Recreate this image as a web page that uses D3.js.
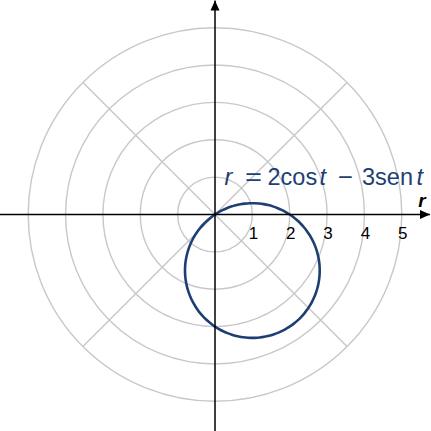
<!DOCTYPE html>
<html><head><meta charset="utf-8">
<script src="https://cdn.jsdelivr.net/npm/d3@7"></script>
<style>html,body{margin:0;padding:0;background:#fff;}svg{display:block;}</style>
</head><body>
<script>
const gridRadii = [1, 2, 3, 4, 5];
const spokeAngles = [45, 135];
const tickLabels = ["1", "2", "3", "4", "5"];
const coefA = 2, coefB = -3; // r = 2cos t − 3sen t
const curveSteps = d3.range(0, 181, 2);
const equationParts = ["r", "=", "2cos", "t", "−", "3sen", "t"];

const W = 431, H = 431, cx = 215, cy = 214.5;
const r = d3.scaleLinear().domain([0, 5]).range([0, 186.8]);
const svg = d3.select("body").append("svg").attr("width", W).attr("height", H);
const defs = svg.append("defs");
defs.append("marker").attr("id", "arr").attr("viewBox", "0 0 10 10").attr("refX", 10).attr("refY", 5)
  .attr("markerWidth", 10).attr("markerHeight", 10).attr("markerUnits", "userSpaceOnUse").attr("orient", "auto")
  .append("path").attr("d", "M0,0.5 L10,5 L0,9.5 Z").attr("fill", "#000");
const g = svg.append("g").attr("transform", `translate(${cx},${cy})`);
const grid = "#c8c8c8";
g.selectAll("circle.grid").data(gridRadii).join("circle").attr("class", "grid")
  .attr("r", d => r(d)).attr("fill", "none").attr("stroke", grid).attr("stroke-width", 1.4);
g.selectAll("line.spoke").data(spokeAngles).join("line").attr("class", "spoke")
  .attr("x1", d => r(5) * Math.cos(d * Math.PI / 180)).attr("y1", d => -r(5) * Math.sin(d * Math.PI / 180))
  .attr("x2", d => -r(5) * Math.cos(d * Math.PI / 180)).attr("y2", d => r(5) * Math.sin(d * Math.PI / 180))
  .attr("stroke", grid).attr("stroke-width", 1.4);
// axes
svg.append("line").attr("x1", 0).attr("y1", cy).attr("x2", 430).attr("y2", cy)
  .attr("stroke", "#000").attr("stroke-width", 1.5).attr("marker-end", "url(#arr)");
svg.append("line").attr("x1", cx).attr("y1", H).attr("x2", cx).attr("y2", 0.5)
  .attr("stroke", "#000").attr("stroke-width", 1.5).attr("marker-end", "url(#arr)");
// tick labels
g.selectAll("text.tick").data(gridRadii).join("text").attr("class", "tick")
  .attr("x", d => r(d) + 1).attr("y", 24).attr("text-anchor", "middle")
  .attr("font-family", "Liberation Sans, Arial, sans-serif").attr("font-size", 17).attr("fill", "#000")
  .text((d, i) => tickLabels[i]);
// r label
svg.append("text").attr("x", 422).attr("y", 207).attr("text-anchor", "middle")
  .attr("font-family", "Liberation Sans, Arial, sans-serif").attr("font-size", 19)
  .attr("font-style", "italic").attr("font-weight", "bold").text("r");
// curve
const pts = curveSteps.map(deg => {
  const t = deg * Math.PI / 180;
  const rv = coefA * Math.cos(t) + coefB * Math.sin(t);
  return [r(rv) * Math.cos(t), -r(rv) * Math.sin(t)];
});
const line = d3.line().curve(d3.curveCardinalClosed);
g.append("path").attr("d", line(pts.slice(0, -1))).attr("fill", "none")
  .attr("stroke", "#1d3f74").attr("stroke-width", 2.6);
// equation
const eqLayout = [
  {x: 224.5, italic: true},
  {x: 245, len: 17},
  {x: 267.5},
  {x: 319.5, italic: true},
  {x: 338, len: 15},
  {x: 362},
  {x: 416.5, italic: true}
];
const eq = svg.append("g").attr("font-family", "Liberation Sans, Arial, sans-serif")
  .attr("font-size", 23.5).attr("fill", "#1d3f74");
equationParts.forEach((s, i) => {
  const L = eqLayout[i];
  const t = eq.append("text").attr("x", L.x).attr("y", 185).text(s);
  if (L.italic) t.attr("font-style", "italic");
  if (L.len) t.attr("textLength", L.len).attr("lengthAdjust", "spacingAndGlyphs");
});
</script>
</body></html>
